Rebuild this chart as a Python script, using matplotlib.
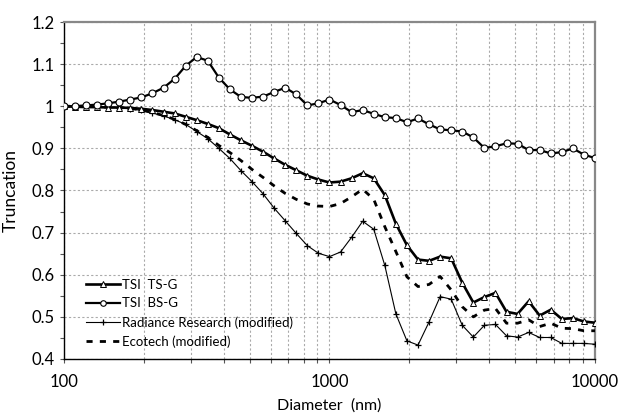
import numpy as np
import matplotlib
matplotlib.use("Agg")
import matplotlib.pyplot as plt
from matplotlib.ticker import FixedLocator, LogLocator, NullFormatter, FuncFormatter

plt.rcParams['font.family'] = ['Lato', 'DejaVu Sans']

# diameters: 49 log-spaced sizes, 100 nm to 10000 nm (as in the source table)
diameter = 100 * 10 ** (np.arange(49) / 24)

tsi_ts = [1.000, 0.999, 0.998, 0.998, 0.997, 0.997, 0.996, 0.994, 0.991, 0.987,
          0.983, 0.975, 0.967, 0.958, 0.948, 0.933, 0.919, 0.906, 0.892, 0.876,
          0.861, 0.848, 0.835, 0.826, 0.819, 0.821, 0.829, 0.841, 0.829, 0.789,
          0.721, 0.670, 0.636, 0.633, 0.643, 0.639, 0.581, 0.534, 0.547, 0.557,
          0.512, 0.507, 0.537, 0.503, 0.517, 0.495, 0.497, 0.489, 0.486]

tsi_bs = [1.000, 1.000, 1.002, 1.004, 1.007, 1.011, 1.016, 1.021, 1.031, 1.044,
          1.065, 1.096, 1.117, 1.108, 1.068, 1.040, 1.022, 1.020, 1.023, 1.034,
          1.044, 1.028, 1.002, 1.007, 1.016, 1.003, 0.986, 0.991, 0.982, 0.974,
          0.972, 0.962, 0.971, 0.957, 0.945, 0.943, 0.940, 0.926, 0.901, 0.905,
          0.912, 0.911, 0.896, 0.896, 0.888, 0.891, 0.900, 0.885, 0.877]

radiance = [1.000, 1.000, 1.000, 0.999, 0.998, 0.997, 0.994, 0.990, 0.984, 0.977,
            0.968, 0.957, 0.940, 0.923, 0.900, 0.876, 0.847, 0.821, 0.792, 0.758,
            0.728, 0.698, 0.669, 0.651, 0.643, 0.654, 0.689, 0.727, 0.708, 0.622,
            0.507, 0.443, 0.433, 0.488, 0.548, 0.542, 0.480, 0.452, 0.480, 0.482,
            0.455, 0.452, 0.463, 0.451, 0.451, 0.437, 0.437, 0.437, 0.435]

ecotech = [1.000, 1.000, 1.000, 0.999, 0.998, 0.997, 0.995, 0.991, 0.985, 0.978,
           0.969, 0.957, 0.942, 0.926, 0.907, 0.890, 0.871, 0.850, 0.831, 0.811,
           0.793, 0.779, 0.768, 0.763, 0.762, 0.769, 0.785, 0.803, 0.779, 0.714,
           0.655, 0.595, 0.572, 0.577, 0.596, 0.564, 0.524, 0.500, 0.516, 0.520,
           0.485, 0.485, 0.493, 0.477, 0.485, 0.473, 0.472, 0.467, 0.467]

fig = plt.figure(figsize=(6.2, 4.13), dpi=100)
ax = fig.add_axes([0.1032, 0.1308, 0.8565, 0.8159])

ax.plot(diameter, tsi_ts, color='black', lw=1.9, marker='^', ms=5,
        mfc='white', mec='black', mew=0.7, label='TSI  TS-G', zorder=4)
ax.plot(diameter, tsi_bs, color='black', lw=1.6, marker='o', ms=5,
        mfc='white', mec='black', mew=0.8, label='TSI  BS-G', zorder=5)
ax.plot(diameter, radiance, color='black', lw=0.8, marker='+', ms=5,
        mew=0.9, label='Radiance Research (modified)', zorder=3)
ax.plot(diameter, ecotech, color='black', lw=2, ls=(0, (2.2, 2.6)),
        label='Ecotech (modified)', zorder=3)

ax.set_xscale('log')
ax.set_xlim(100, 10000)
ax.set_ylim(0.4, 1.2)

ax.yaxis.set_major_locator(FixedLocator(np.arange(0.4, 1.21, 0.1)))
ax.yaxis.set_minor_locator(FixedLocator(np.arange(0.45, 1.2, 0.1)))
ax.yaxis.set_major_formatter(FuncFormatter(lambda v, p: f'{v:g}'))
ax.xaxis.set_major_locator(LogLocator(base=10))
ax.xaxis.set_minor_locator(LogLocator(base=10, subs=np.arange(2, 10)))
ax.xaxis.set_minor_formatter(NullFormatter())
ax.xaxis.set_major_formatter(FuncFormatter(lambda v, p: f'{v:.0f}'))

ax.grid(True, which='major', axis='y', color='#aaaaaa', ls=(0, (2, 2)), lw=0.8)
ax.grid(True, which='both', axis='x', color='#aaaaaa', ls=(0, (2, 2)), lw=0.8)
ax.set_axisbelow(True)

ax.tick_params(axis='both', which='both', direction='out', length=3, width=0.8,
               color='#555555', labelsize=12, pad=4)
ax.tick_params(axis='x', which='major', pad=8)

for s in ('top', 'right'):
    ax.spines[s].set_color('#888888')
    ax.spines[s].set_linewidth(1.6)
for s in ('left', 'bottom'):
    ax.spines[s].set_color('black')
    ax.spines[s].set_linewidth(1.0)

ax.set_xlabel('Diameter  (nm)', fontsize=11.5, labelpad=6)
ax.set_ylabel('Truncation', fontsize=12.5, labelpad=9)

ax.legend(loc='lower left', bbox_to_anchor=(0.02, 0.0), frameon=False,
          fontsize=9.5, handlelength=2.6, handletextpad=0.15,
          labelspacing=0.5, borderaxespad=0.45, markerscale=0.8)

fig.savefig('out.png', dpi=100)
